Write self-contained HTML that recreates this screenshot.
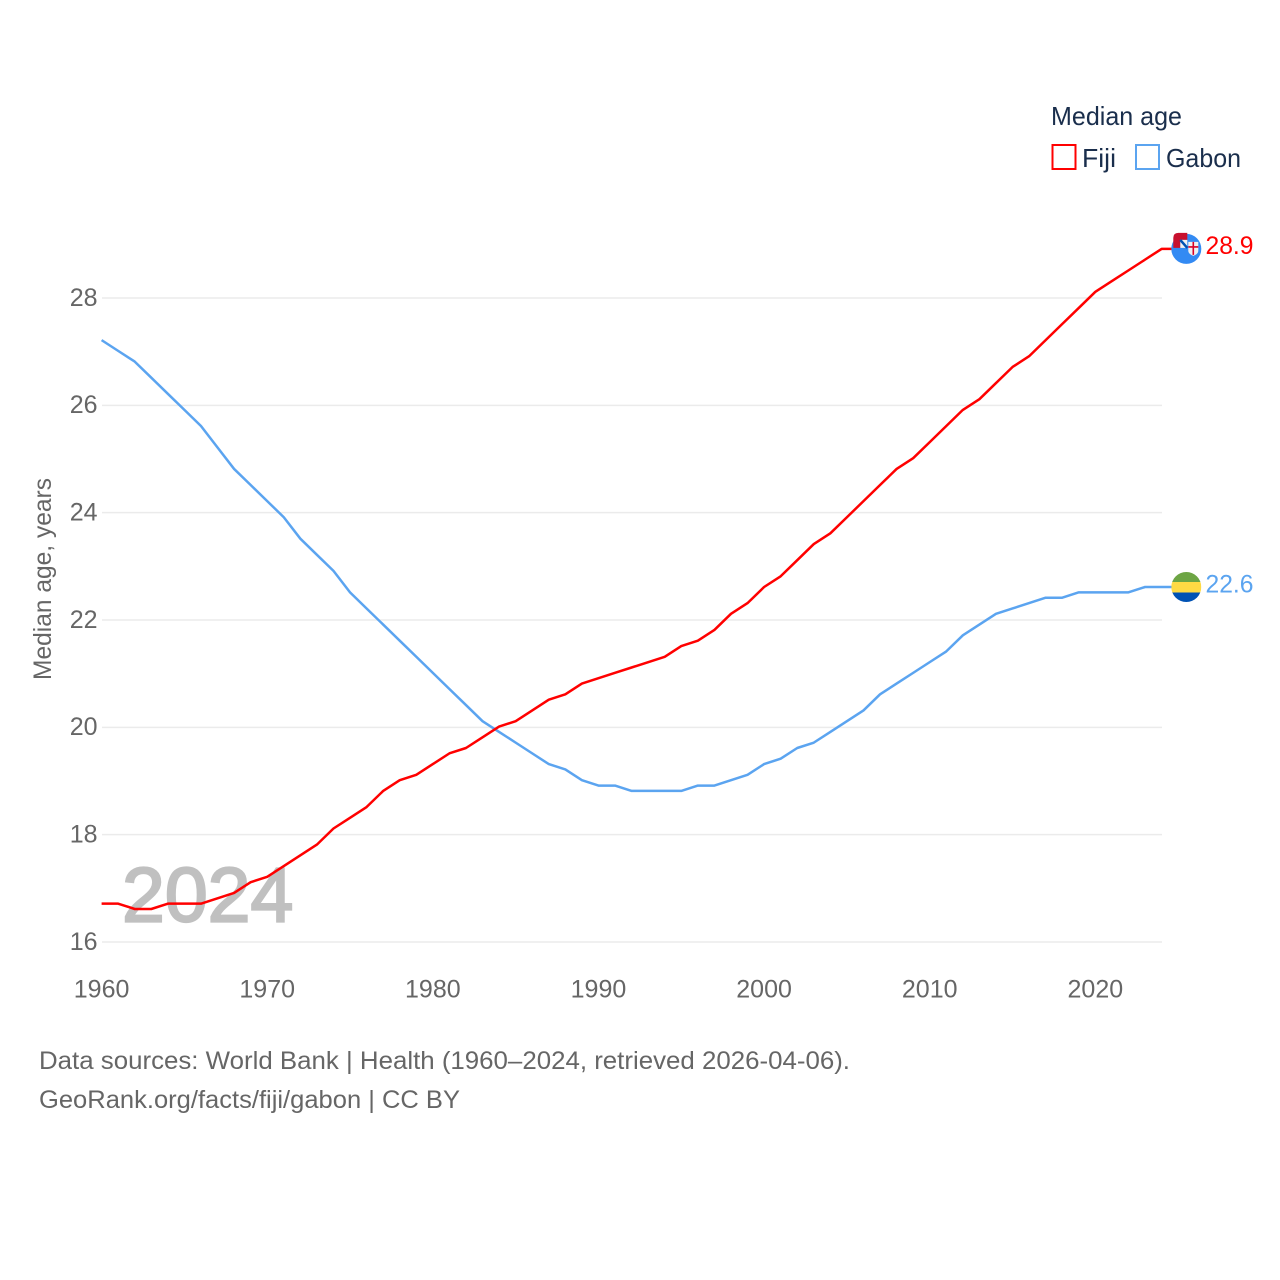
<!DOCTYPE html>
<html>
<head>
<meta charset="utf-8">
<title>Median age: Fiji and Gabon</title>
<style>
html,body{margin:0;padding:0;background:#fff;}
svg{display:block;font-family:"Liberation Sans",sans-serif;}
</style>
</head>
<body>
<svg id="chart" width="1280" height="1280" viewBox="0 0 1280 1280" xmlns="http://www.w3.org/2000/svg">
  <defs>
    <clipPath id="clip-gabon"><circle cx="0" cy="0" r="15"></circle></clipPath>
  </defs>
  <g id="grid"></g>
  <text x="122" y="921.5" font-size="77" font-weight="400" fill="#c0c0c0" stroke="#c0c0c0" stroke-width="2.2">2024</text>
  <g id="yticks"></g>
  <g id="xticks"></g>
  <text transform="translate(51,579) rotate(-90)" text-anchor="middle" font-size="25" fill="#666" textLength="202" lengthAdjust="spacingAndGlyphs">Median age, years</text>
  <g id="lines"></g>
  <g id="flags"></g>

  <g>
    <text x="1051" y="125" font-size="26" fill="#1a2e4c" textLength="131" lengthAdjust="spacingAndGlyphs">Median age</text>
    <g>
      <rect x="1052.5" y="145" width="23" height="24" fill="#fff" stroke="#ff0000" stroke-width="2"></rect>
      <text x="1082" y="167" font-size="26" fill="#1a2e4c" textLength="34" lengthAdjust="spacingAndGlyphs">Fiji</text>
    </g>
    <g>
      <rect x="1136" y="145" width="23" height="24" fill="#fff" stroke="#5ba4f0" stroke-width="2"></rect>
      <text x="1166" y="167" font-size="26" fill="#1a2e4c" textLength="75" lengthAdjust="spacingAndGlyphs">Gabon</text>
    </g>
  </g>

  <text x="39" y="1069" font-size="25" fill="#666" textLength="811" lengthAdjust="spacingAndGlyphs">Data sources: World Bank | Health (1960–2024, retrieved 2026-04-06).</text>
  <text x="39" y="1108" font-size="25" fill="#666" textLength="421" lengthAdjust="spacingAndGlyphs">GeoRank.org/facts/fiji/gabon | CC BY</text>
</svg>
<script>
const years = [1960,1961,1962,1963,1964,1965,1966,1967,1968,1969,1970,1971,1972,1973,1974,1975,1976,1977,1978,1979,1980,1981,1982,1983,1984,1985,1986,1987,1988,1989,1990,1991,1992,1993,1994,1995,1996,1997,1998,1999,2000,2001,2002,2003,2004,2005,2006,2007,2008,2009,2010,2011,2012,2013,2014,2015,2016,2017,2018,2019,2020,2021,2022,2023,2024];
const fijiValues = [16.7,16.7,16.6,16.6,16.7,16.7,16.7,16.8,16.9,17.1,17.2,17.4,17.6,17.8,18.1,18.3,18.5,18.8,19.0,19.1,19.3,19.5,19.6,19.8,20.0,20.1,20.3,20.5,20.6,20.8,20.9,21.0,21.1,21.2,21.3,21.5,21.6,21.8,22.1,22.3,22.6,22.8,23.1,23.4,23.6,23.9,24.2,24.5,24.8,25.0,25.3,25.6,25.9,26.1,26.4,26.7,26.9,27.2,27.5,27.8,28.1,28.3,28.5,28.7,28.9];
const gabonValues = [27.2,27.0,26.8,26.5,26.2,25.9,25.6,25.2,24.8,24.5,24.2,23.9,23.5,23.2,22.9,22.5,22.2,21.9,21.6,21.3,21.0,20.7,20.4,20.1,19.9,19.7,19.5,19.3,19.2,19.0,18.9,18.9,18.8,18.8,18.8,18.8,18.9,18.9,19.0,19.1,19.3,19.4,19.6,19.7,19.9,20.1,20.3,20.6,20.8,21.0,21.2,21.4,21.7,21.9,22.1,22.2,22.3,22.4,22.4,22.5,22.5,22.5,22.5,22.6,22.6];
const yTickValues = [16,18,20,22,24,26,28];
const xTickValues = [1960,1970,1980,1990,2000,2010,2020];

const NS = 'http://www.w3.org/2000/svg';
const xScale = function (year) { return 101.6 + (year - 1960) * (1161.6 - 101.6) / 64; };
const yScale = function (value) { return 942 - (value - 16) * (942 - 298) / 12; };
const SERIES_Y_OFFSET = -0.8;
const seriesY = function (value) { return yScale(value) + SERIES_Y_OFFSET; };
const FIJI_COLOR = '#ff0000';
const GABON_COLOR = '#5ba4f0';
const FLAG_X = 1186.3;

function make(tag, attrs, parent) {
  const el = document.createElementNS(NS, tag);
  Object.keys(attrs).forEach(function (k) { el.setAttribute(k, attrs[k]); });
  parent.appendChild(el);
  return el;
}

const gridGroup = document.getElementById('grid');
const yTickGroup = document.getElementById('yticks');
yTickValues.forEach(function (v) {
  const line = make('line', {x1: 102, x2: 1162, y1: yScale(v), y2: yScale(v), stroke: '#ebebeb', 'stroke-width': 1.5}, gridGroup);
  
  
  const label = make('text', {x: 97.5, y: yScale(v) + 7.8, 'text-anchor': 'end', 'font-size': 25, fill: '#666'}, yTickGroup);
  
  
  label.textContent = String(v);
});

const xTickGroup = document.getElementById('xticks');
xTickValues.forEach(function (year) {
  const label = make('text', {x: xScale(year), y: 997.5, 'text-anchor': 'middle', 'font-size': 25, fill: '#666'}, xTickGroup);
  
  
  label.textContent = String(year);
});

function linePoints(values) {
  const pts = values.map(function (v, i) { return xScale(years[i]).toFixed(2) + ',' + seriesY(v).toFixed(2); });
  const last = values[values.length - 1];
  pts.push(FLAG_X + ',' + seriesY(last).toFixed(2));
  return pts.join(' ');
}

const lineGroup = document.getElementById('lines');
const gabonLine = make('polyline', {points: linePoints(gabonValues), fill: 'none', stroke: GABON_COLOR, 'stroke-width': 2.5, 'stroke-linejoin': 'round'}, lineGroup);


const fijiLine = make('polyline', {points: linePoints(fijiValues), fill: 'none', stroke: FIJI_COLOR, 'stroke-width': 2.5, 'stroke-linejoin': 'round'}, lineGroup);



const flagGroup = document.getElementById('flags');
const fijiLast = fijiValues[fijiValues.length - 1];
const gabonLast = gabonValues[gabonValues.length - 1];

const fijiFlag = make('g', {transform: 'translate(' + FLAG_X + ',' + seriesY(fijiLast) + ')'}, flagGroup);


make('circle', {cx: 0, cy: 0, r: 15, fill: '#338af3'}, fijiFlag);
make('path', {d: 'M-13 -1 V-11 Q-13 -16 -8 -16 H1 V-9 H-6 V-1 Z', fill: '#c8102e'}, fijiFlag);
make('rect', {x: -6, y: -9, width: 7, height: 8, fill: '#f0f0f0'}, fijiFlag);
make('path', {d: 'M-6 -9 L1 -1', stroke: '#0052b4', 'stroke-width': 2.5, fill: 'none'}, fijiFlag);
make('path', {d: 'M2 -7 H12 V2 Q12 5 7 7 Q2 5 2 2 Z', fill: '#f0f0f0'}, fijiFlag);
make('path', {d: 'M7 -7 V6 M2 -2 H12', stroke: '#d80027', 'stroke-width': 1.6, fill: 'none'}, fijiFlag);

const gabonFlag = make('g', {transform: 'translate(' + FLAG_X + ',' + seriesY(gabonLast) + ')', 'clip-path': 'url(#clip-gabon)'}, flagGroup);


make('rect', {x: -15, y: -15, width: 30, height: 10, fill: '#6da544'}, gabonFlag);
make('rect', {x: -15, y: -5, width: 30, height: 10.5, fill: '#ffda44'}, gabonFlag);
make('rect', {x: -15, y: 5.5, width: 30, height: 10, fill: '#0052b4'}, gabonFlag);

const fijiLabel = make('text', {x: 1205.5, y: seriesY(fijiLast) + 5, 'font-size': 25, fill: FIJI_COLOR, textLength: 48, lengthAdjust: 'spacingAndGlyphs'}, flagGroup);


fijiLabel.textContent = fijiLast.toFixed(1);

const gabonLabel = make('text', {x: 1205.5, y: seriesY(gabonLast) + 5.5, 'font-size': 25, fill: GABON_COLOR, textLength: 48, lengthAdjust: 'spacingAndGlyphs'}, flagGroup);


gabonLabel.textContent = gabonLast.toFixed(1);
</script>
</body>
</html>
